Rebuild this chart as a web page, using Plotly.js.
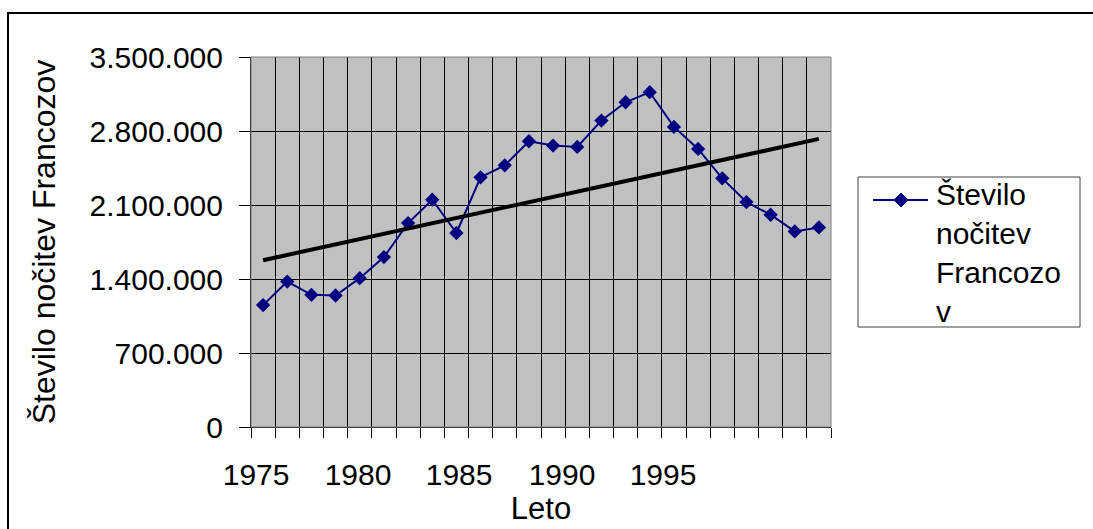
<!DOCTYPE html>
<html>
<head>
<meta charset="utf-8">
<script src="https://cdn.plot.ly/plotly-3.0.1.min.js"></script>
<style>
  html, body { margin: 0; padding: 0; background: #ffffff; }
  #chart { width: 1093px; height: 529px; }
</style>
</head>
<body>
<div id="chart"></div>
<script>
// ---- data ----
const years = [1975, 1976, 1977, 1978, 1979, 1980, 1981, 1982, 1983, 1984, 1985, 1986,
               1987, 1988, 1989, 1990, 1991, 1992, 1993, 1994, 1995, 1996, 1997, 1998];
const nights = [1153000, 1376000, 1250000, 1244000, 1408000, 1607000, 1929000, 2150000,
                1835000, 2362000, 2475000, 2703000, 2662000, 2649000, 2899000, 3072000,
                3167000, 2839000, 2630000, 2352000, 2128000, 2008000, 1850000, 1888000];
const seriesName = "Število nočitev Francozov";
const legendText = "Število<br>nočitev<br>Francozo<br>v";
const xTickLabels = ["1975", "1980", "1985", "1990", "1995"];
const xTickPos = [1974.71, 1978.93, 1983.11, 1987.37, 1991.55];
const yTicks = [0, 700000, 1400000, 2100000, 2800000, 3500000];

// ---- linear trend (least squares) ----
const n = years.length;
const mx = years.reduce((a, b) => a + b, 0) / n;
const my = nights.reduce((a, b) => a + b, 0) / n;
let sxy = 0, sxx = 0;
for (let i = 0; i < n; i++) { sxy += (years[i] - mx) * (nights[i] - my); sxx += (years[i] - mx) ** 2; }
const slope = sxy / sxx, icpt = my - slope * mx;
const trendX = [years[0], years[n - 1]];
const trendY = trendX.map(x => icpt + slope * x);

const FONT = "Liberation Sans, Arial, sans-serif";

// paper-coordinate helpers (plot area: 251..831 px wide, 57..427 px tall)
const L = 251, R = 831, T = 57, B = 427;
const px = v => (v - L) / (R - L);
const py = v => (B - v) / (B - T);

const traces = [
  {
    x: years, y: nights, type: "scatter", mode: "lines+markers", name: seriesName,
    line: { color: "#000080", width: 2 },
    marker: { symbol: "diamond", size: 11, color: "#000080" },
    showlegend: false, hoverinfo: "x+y"
  },
  {
    x: trendX, y: trendY, type: "scatter", mode: "lines", name: "Linear trend",
    line: { color: "#000000", width: 4 }, showlegend: false, hoverinfo: "skip"
  }
];

// legend drawn manually (box, line, diamond)
const lgY = py(200), lgCx = px(901);
const dx = 7 / (R - L), dy = 7 / (B - T);
const shapes = [
  // outer chart border
  { type: "rect", xref: "paper", yref: "paper", x0: px(8), x1: 3, y0: -2, y1: py(13),
    line: { color: "#000000", width: 2 }, fillcolor: "rgba(0,0,0,0)", layer: "below" },
  // plot area frame (top/right gray)
  { type: "rect", xref: "paper", yref: "paper", x0: 0, x1: 1, y0: 0, y1: 1,
    line: { color: "#808080", width: 1 }, fillcolor: "rgba(0,0,0,0)", layer: "above" },
  // legend box
  { type: "rect", xref: "paper", yref: "paper", x0: px(858), x1: px(1080), y0: py(327), y1: py(177),
    line: { color: "#404040", width: 1 }, fillcolor: "#ffffff" },
  // legend line
  { type: "line", xref: "paper", yref: "paper", x0: px(873), x1: px(928), y0: lgY, y1: lgY,
    line: { color: "#000080", width: 2 } },
  // legend diamond
  { type: "path", xref: "paper", yref: "paper",
    path: `M ${lgCx - dx},${lgY} L ${lgCx},${lgY + dy} L ${lgCx + dx},${lgY} L ${lgCx},${lgY - dy} Z`,
    fillcolor: "#000080", line: { color: "#000080", width: 1 } }
];

const layout = {
  width: 1093, height: 529,
  margin: { l: L, r: 1093 - R, t: T, b: 529 - B, pad: 0 },
  paper_bgcolor: "#ffffff",
  plot_bgcolor: "#C0C0C0",
  separators: ",.",
  font: { family: FONT, color: "#000000", size: 28 },
  showlegend: false,
  xaxis: {
    range: [1974.5, 1998.5],
    tickmode: "array", tickvals: xTickPos, ticktext: xTickLabels,
    ticks: "", showgrid: false, zeroline: false,
    tickfont: { family: FONT, size: 30, color: "#000" },
    ticklabelstandoff: 21,
    showline: true, linecolor: "#000000", linewidth: 1,
    minor: { tick0: 1974.5, dtick: 1, ticks: "outside", ticklen: 10, tickcolor: "#000",
             tickwidth: 1, showgrid: true, gridcolor: "#000000", gridwidth: 1 },
    title: { text: "Leto", font: { family: FONT, size: 31, color: "#000" }, standoff: 2 },
    fixedrange: true
  },
  yaxis: {
    range: [0, 3500000],
    tickmode: "array", tickvals: yTicks, tickformat: ",d",
    ticks: "outside", ticklen: 11, tickcolor: "#000", tickwidth: 1,
    showgrid: true, gridcolor: "#000000", gridwidth: 1, zeroline: false,
    tickfont: { family: FONT, size: 30, color: "#000" },
    ticklabelstandoff: 10,
    showline: true, linecolor: "#000000", linewidth: 1,
    title: { text: seriesName, font: { family: FONT, size: 32, color: "#000" }, standoff: 24 },
    fixedrange: true
  },
  shapes: shapes,
  annotations: [
    { xref: "paper", yref: "paper", x: px(934), y: py(176), xanchor: "left", yanchor: "top",
      align: "left", showarrow: false, text: legendText,
      font: { family: FONT, size: 30, color: "#000" } }
  ]
};

Plotly.newPlot("chart", traces, layout, { displayModeBar: false, staticPlot: true });
</script>
</body>
</html>
